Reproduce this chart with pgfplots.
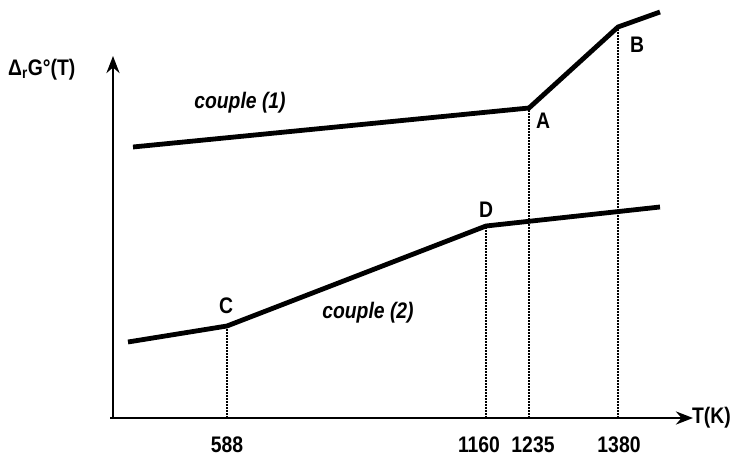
\documentclass[border=0pt]{standalone}
\usepackage{pgfplots}
\pgfplotsset{compat=1.18}
\usepackage{fontspec}
\setmainfont{Liberation Sans}[FakeStretch=0.86]
\usetikzlibrary{arrows.meta}
\tikzset{lab/.style={font=\fontsize{22.5}{26}\selectfont\bfseries, inner sep=0pt}}
\begin{document}
\begin{tikzpicture}
\begin{axis}[
  width=731pt, height=458pt, scale only axis,
  xmin=0, xmax=731, ymin=0, ymax=458,
  hide axis, clip=false,
]
\path (axis cs:0,0) rectangle (axis cs:731,458);
% axes
\addplot[line width=2.8pt, -{Stealth[length=17pt,width=13pt]}] coordinates {(110,40) (693,40)};
\addplot[line width=2.8pt, -{Stealth[length=17pt,width=13pt]}] coordinates {(113,39) (113,402)};
% dotted guides
\addplot[line width=1.6pt, dash pattern=on 1.6pt off 1.4pt] coordinates {(227,40) (227,132)};
\addplot[line width=1.6pt, dash pattern=on 1.6pt off 1.4pt] coordinates {(486,40) (486,232)};
\addplot[line width=1.6pt, dash pattern=on 1.6pt off 1.4pt] coordinates {(529,40) (529,350)};
\addplot[line width=1.6pt, dash pattern=on 1.6pt off 1.4pt] coordinates {(618,40) (618,431)};
% couple (1)
\addplot[line width=4.8pt, line join=miter] coordinates {(133,311) (529,350) (618,431) (660,446)};
% couple (2)
\addplot[line width=4.8pt, line join=miter] coordinates {(128,116) (227,132) (486,232) (660,251)};
% labels
\node[lab, anchor=west] at (axis cs:8,388) {Δ\textsubscript{r}G°(T)};
\node[lab, anchor=east] at (axis cs:731,40) {T(K)};
\node[lab] at (axis cs:227,13) {588};
\node[lab] at (axis cs:479,13) {1160};
\node[lab] at (axis cs:533,13) {1235};
\node[lab] at (axis cs:619,13) {1380};
\node[lab] at (axis cs:240,355) {\itshape couple (1)};
\node[lab] at (axis cs:368,145) {\itshape couple (2)};
\node[lab] at (axis cs:543,337) {A};
\node[lab] at (axis cs:637,413) {B};
\node[lab] at (axis cs:226,152) {C};
\node[lab] at (axis cs:486,248) {D};
\end{axis}
\end{tikzpicture}
\end{document}
